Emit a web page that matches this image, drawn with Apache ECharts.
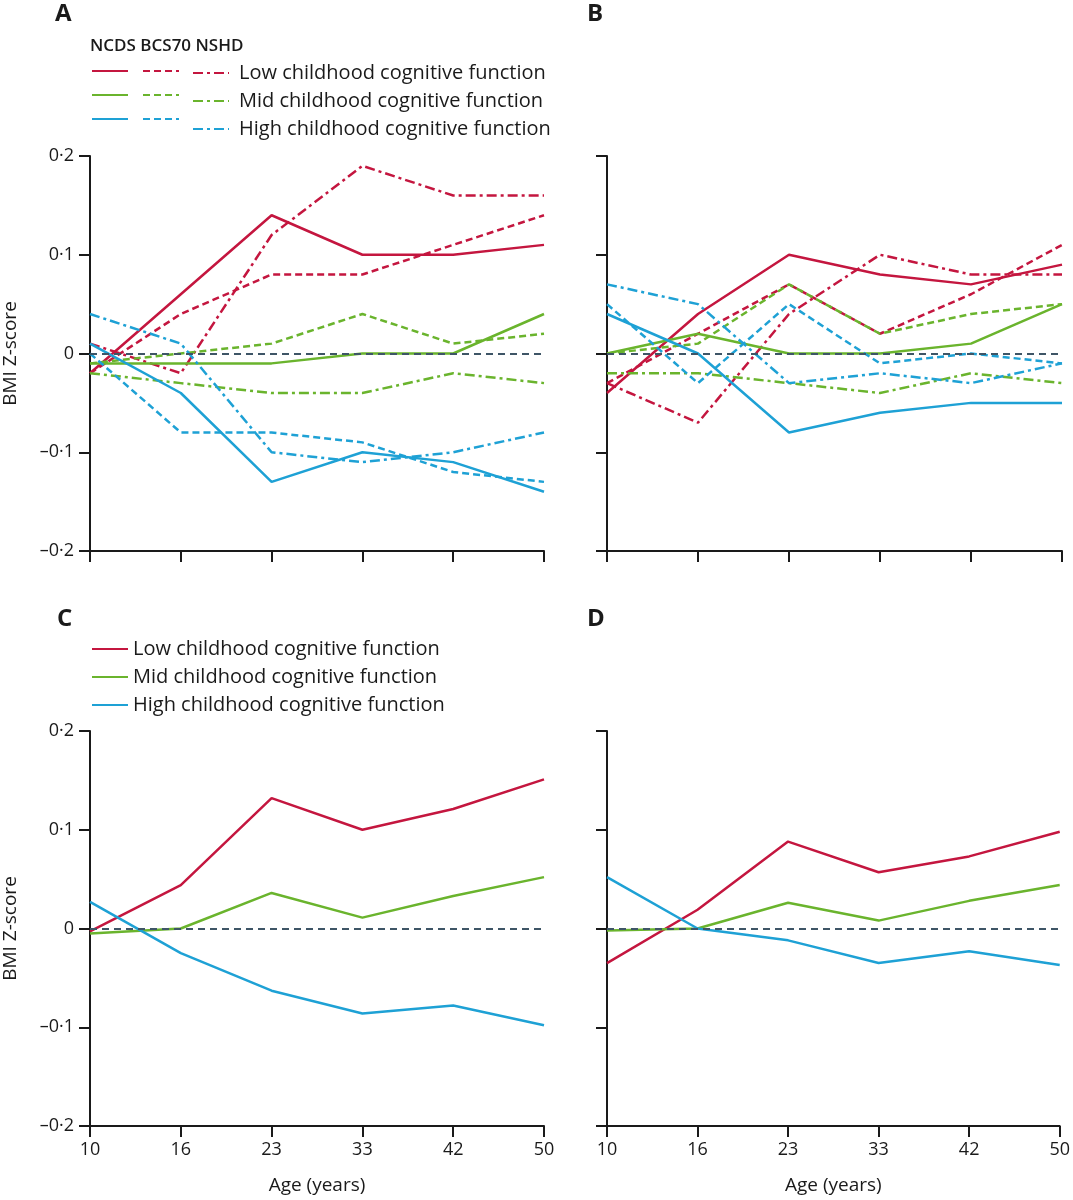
<!DOCTYPE html>
<html>
<head>
<meta charset="utf-8">
<script src="https://cdn.jsdelivr.net/npm/echarts@6/dist/echarts.min.js"></script>
<style>
  body { margin: 0; background: #fff; }
  #chart { width: 1073px; height: 1200px; }
</style>
</head>
<body>
<div id="chart"></div>
<script>
/* ages on the x axis */
var ages = ['10', '16', '23', '33', '42', '50'];
var groups = ['Low', 'Mid', 'High'];
var groupLabels = ['Low childhood cognitive function', 'Mid childhood cognitive function', 'High childhood cognitive function'];

/* Panel A : NCDS (solid), BCS70 (dashed), NSHD (dash-dot) */
var aNcdsLow   = [-0.02, 0.06, 0.14, 0.10, 0.10, 0.11];
var aBcsLow    = [-0.02, 0.04, 0.08, 0.08, 0.11, 0.14];
var aNshdLow   = [0.01, -0.02, 0.12, 0.19, 0.16, 0.16];
var aNcdsMid   = [-0.01, -0.01, -0.01, 0, 0, 0.04];
var aBcsMid    = [-0.01, 0, 0.01, 0.04, 0.01, 0.02];
var aNshdMid   = [-0.02, -0.03, -0.04, -0.04, -0.02, -0.03];
var aNcdsHigh  = [0.01, -0.04, -0.13, -0.10, -0.11, -0.14];
var aBcsHigh   = [0, -0.08, -0.08, -0.09, -0.12, -0.13];
var aNshdHigh  = [0.04, 0.01, -0.10, -0.11, -0.10, -0.08];

/* Panel B */
var bNcdsLow   = [-0.04, 0.04, 0.10, 0.08, 0.07, 0.09];
var bBcsLow    = [-0.03, 0.02, 0.07, 0.02, 0.06, 0.11];
var bNshdLow   = [-0.03, -0.07, 0.04, 0.10, 0.08, 0.08];
var bNcdsMid   = [0, 0.02, 0, 0, 0.01, 0.05];
var bBcsMid    = [0, 0.01, 0.07, 0.02, 0.04, 0.05];
var bNshdMid   = [-0.02, -0.02, -0.03, -0.04, -0.02, -0.03];
var bNcdsHigh  = [0.04, 0, -0.08, -0.06, -0.05, -0.05];
var bBcsHigh   = [0.05, -0.03, 0.05, -0.01, 0, -0.01];
var bNshdHigh  = [0.07, 0.05, -0.03, -0.02, -0.03, -0.01];

/* Panel C : pooled */
var cLow  = [-0.003, 0.044, 0.132, 0.100, 0.121, 0.151];
var cMid  = [-0.005, 0, 0.036, 0.011, 0.033, 0.052];
var cHigh = [0.027, -0.025, -0.063, -0.086, -0.078, -0.098];

/* Panel D : pooled */
var dLow  = [-0.035, 0.019, 0.088, 0.057, 0.073, 0.098];
var dMid  = [-0.002, 0, 0.026, 0.008, 0.028, 0.044];
var dHigh = [0.052, 0, -0.012, -0.035, -0.023, -0.037];

var yTicks = { min: -0.2, max: 0.2, interval: 0.1 };

var colors = ['#c4163f', '#6ab42d', '#1ea1d5'];
var dashed = [7, 4];
var dashDot = [10, 4, 3, 4];
var ink = '#1a1a1a';
var font = 'Open Sans';

function line(name, idx, data, color, type) {
	return {
		name: name,
		type: 'line',
		xAxisIndex: idx,
		yAxisIndex: idx,
		data: data,
		symbol: 'none',
		silent: true,
		lineStyle: { color: color, width: 2.5, type: type },
		itemStyle: { color: color },
		emphasis: { disabled: true }
	};
}

function zeroLine() {
	return {
		silent: true,
		symbol: 'none',
		label: { show: false },
		lineStyle: { color: '#3e5566', type: [7, 5], width: 2.2 },
		data: [{ yAxis: 0 }]
	};
}

var series = [];
var cohortA = [[aNcdsLow, aBcsLow, aNshdLow], [aNcdsMid, aBcsMid, aNshdMid], [aNcdsHigh, aBcsHigh, aNshdHigh]];
var cohortB = [[bNcdsLow, bBcsLow, bNshdLow], [bNcdsMid, bBcsMid, bNshdMid], [bNcdsHigh, bBcsHigh, bNshdHigh]];
var cohorts = ['NCDS', 'BCS70', 'NSHD'];
var styles = ['solid', dashed, dashDot];

[cohortA, cohortB].forEach(function (panel, p) {
	groups.forEach(function (g, gi) {
		cohorts.forEach(function (c, ci) {
			series.push(line(c + ' ' + g, p, panel[gi][ci], colors[gi], styles[ci]));
		});
	});
});
[[cLow, cMid, cHigh], [dLow, dMid, dHigh]].forEach(function (panel, p) {
	groups.forEach(function (g, gi) {
		series.push(line(groupLabels[gi], p + 2, panel[gi], colors[gi], 'solid'));
	});
});
/* dashed zero reference in every panel */
var firstOfPanel = [0, 9, 18, 21];
firstOfPanel.forEach(function (i) { series[i].markLine = zeroLine(); });

var gridPos = [
	{ left: 89, top: 156 },
	{ left: 607, top: 156 },
	{ left: 89, top: 731 },
	{ left: 607, top: 731 }
];

function yLabel(v) {
	if (Math.abs(v) < 1e-9) return '0';
	return v.toFixed(1).replace('-', '\u2013').replace('.', '\u00b7');
}

var axisLine = { show: true, onZero: false, lineStyle: { color: ink, width: 2 } };
var axisTick = { show: true, length: 11, lineStyle: { color: ink, width: 2 } };

function legendBox(names, left, top, fmt, pad) {
	var l = {
		data: names,
		orient: 'vertical', left: left, top: top,
		padding: 0,
		itemWidth: 36, itemHeight: 20, itemGap: 8,
		selectedMode: false,
		itemStyle: { opacity: 0 },
		textStyle: { fontSize: 20, lineHeight: 20, color: ink, fontFamily: font, padding: [0, 0, 0, pad] }
	};
	if (fmt) l.formatter = fmt;
	return l;
}

function letter(t, left, top) {
	return { text: t, left: left, top: top, padding: 0, textStyle: { fontSize: 24, fontWeight: 'bold', color: ink, fontFamily: font } };
}

var option = {
	backgroundColor: '#fff',
	animation: false,
	textStyle: { fontFamily: font },
	title: [
		letter('A', 55, 2),
		letter('B', 587, 2),
		letter('C', 57, 607),
		letter('D', 587, 607),
		{ text: 'NCDS BCS70 NSHD', left: 90, top: 38, padding: 0, textStyle: { fontSize: 17, fontWeight: 600, color: ink, fontFamily: font } }
	],
	legend: [
		legendBox(groups.map(function (g) { return 'NCDS ' + g; }), 91, 63, function () { return ''; }, 0),
		legendBox(groups.map(function (g) { return 'BCS70 ' + g; }), 142, 63, function () { return ''; }, 0),
		legendBox(groups.map(function (g) { return 'NSHD ' + g; }), 192, 63,
			function (name) { return groupLabels[groups.indexOf(name.split(' ')[1])]; }, 5),
		legendBox(groupLabels, 91, 639, null, 0)
	],
	grid: gridPos.map(function (g) {
		return { left: g.left, top: g.top, width: 455, height: 395, containLabel: false };
	}),
	xAxis: gridPos.map(function (g, i) {
		var bottom = i >= 2;
		return {
			gridIndex: i,
			type: 'category',
			data: ages,
			boundaryGap: false,
			axisLine: axisLine,
			axisTick: axisTick,
			splitLine: { show: false },
			axisLabel: { show: bottom, fontSize: 18, color: ink, margin: 15, fontFamily: font },
			name: bottom ? 'Age (years)' : '',
			nameLocation: 'middle',
			nameGap: 50,
			nameTextStyle: { fontSize: 19, color: ink, fontFamily: font }
		};
	}),
	yAxis: gridPos.map(function (g, i) {
		var left = i % 2 === 0;
		return {
			gridIndex: i,
			type: 'value',
			min: yTicks.min,
			max: yTicks.max,
			interval: yTicks.interval,
			axisLine: axisLine,
			axisTick: axisTick,
			splitLine: { show: false },
			axisLabel: { show: left, fontSize: 18, color: ink, margin: 16, formatter: yLabel, fontFamily: font },
			name: left ? 'BMI Z-score' : '',
			nameLocation: 'middle',
			nameRotate: 90,
			nameGap: 70,
			nameTextStyle: { fontSize: 19, color: ink, fontFamily: font }
		};
	}),
	series: series
};

var chart = echarts.init(document.getElementById('chart'), null, { renderer: 'canvas' });
chart.setOption(option);
</script>
</body>
</html>
